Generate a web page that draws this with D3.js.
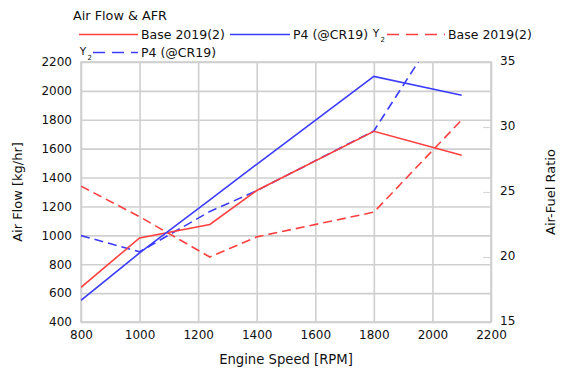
<!DOCTYPE html>
<html><head><meta charset="utf-8">
<script src="https://cdn.jsdelivr.net/npm/d3@7"></script>
<style>
body{margin:0;background:#fff;}
text{font-family:"DejaVu Sans",sans-serif;font-size:12px;fill:#111;}
</style></head>
<body><svg id="c" width="565" height="373"></svg>
<script>
const rpm = [800, 1000, 1240, 1400, 1800, 2100];
const airflowBase = [640, 982, 1075, 1310, 1720, 1555];
const airflowP4 = [550, 878, 1245, 1492, 2100, 1970];
const afrBase = [25.45, 23.1, 20.0, 21.55, 23.45, 30.55];
const afrP4 = [21.65, 20.4, 23.5, 25.1, 29.7, 40.2];
const xTicks = [800, 1000, 1200, 1400, 1600, 1800, 2000, 2200];
const yTicks = [400, 600, 800, 1000, 1200, 1400, 1600, 1800, 2000, 2200];
const y2Ticks = [15, 20, 25, 30, 35];
const seriesNames = ["Base 2019(2)", "P4 (@CR19)"];
const title = "Air Flow & AFR";

const RED = "#ff4040", BLUE = "#3c3cff", GRID = "#cfcfcf";
const L = 81, R = 491, T = 62, B = 322;
const svg = d3.select("#c");
const x = d3.scaleLinear().domain([800, 2200]).range([L, R]);
const y = d3.scaleLinear().domain([400, 2200]).range([B, T]);
const y2 = d3.scaleLinear().domain([15, 35]).range([B, T]);

// grid + axes
const gx = svg.append("g").attr("transform", `translate(0,${B})`)
  .call(d3.axisBottom(x).tickValues(xTicks).tickSize(-(B - T)).tickPadding(8.5).tickFormat(d3.format("d")));
const gy = svg.append("g").attr("transform", `translate(${L},0)`)
  .call(d3.axisLeft(y).tickValues(yTicks).tickSize(-(R - L)).tickPadding(9).tickFormat(d3.format("d")));
const gy2 = svg.append("g").attr("transform", `translate(${R},0)`)
  .call(d3.axisRight(y2).tickValues(y2Ticks).tickSize(-8).tickPadding(9).tickFormat(d3.format("d")));
[gx, gy, gy2].forEach(g => {
  g.select(".domain").remove();
  g.selectAll("text").style("font-family", "DejaVu Sans").style("font-size", "12px").attr("fill", "#111");
});
gy2.selectAll("text").attr("dy", "0.2em");
gx.selectAll(".tick line").attr("stroke", GRID).attr("stroke-width", 1.6);
gy.selectAll(".tick line").attr("stroke", GRID).attr("stroke-width", 1.6);
gy2.selectAll(".tick line").attr("stroke", "#d8d8d8").attr("stroke-width", 1.2);
svg.append("rect").attr("x", L).attr("y", T).attr("width", R - L).attr("height", B - T)
  .attr("fill", "none").attr("stroke", GRID).attr("stroke-width", 1.6);

// clip
svg.append("clipPath").attr("id", "clip").append("rect")
  .attr("x", L).attr("y", T).attr("width", R - L).attr("height", B - T);
const plot = svg.append("g").attr("clip-path", "url(#clip)");

const lineL = d3.line().x((d, i) => x(rpm[i])).y(d => y(d));
const lineR = d3.line().x((d, i) => x(rpm[i])).y(d => y2(d));
const DASH = "9,5";
const series = [
  {data: afrBase, gen: lineR, color: RED, dash: DASH},
  {data: afrP4, gen: lineR, color: BLUE, dash: DASH},
  {data: airflowBase, gen: lineL, color: RED, dash: null},
  {data: airflowP4, gen: lineL, color: BLUE, dash: null},
];
series.forEach(s => {
  plot.append("path").attr("d", s.gen(s.data)).attr("fill", "none")
    .attr("stroke", s.color).attr("stroke-width", 1.6)
    .attr("stroke-dasharray", s.dash);
});

// titles
svg.append("text").attr("x", 73).attr("y", 20).style("font-size", "12.8px").text(title);
svg.append("text").attr("x", 286).attr("y", 364).attr("text-anchor", "middle").style("font-size", "13.2px").text("Engine Speed [RPM]");
svg.append("text").attr("transform", `translate(22,${(T + B) / 2}) rotate(-90)`).attr("text-anchor", "middle").style("font-size", "13px").text("Air Flow [kg/hr]");
svg.append("text").attr("transform", `translate(555,${(T + B) / 2}) rotate(-90)`).attr("text-anchor", "middle").style("font-size", "13px").text("Air-Fuel Ratio");

// legend (secondary-axis marker "Y2")
function y2Icon(cx, cy) {
  svg.append("text").attr("x", cx - 1).attr("y", cy + 2.5).attr("text-anchor", "middle").style("font-size", "10.5px").text("Y");
  svg.append("text").attr("x", cx + 3.4).attr("y", cy + 7).style("font-size", "7px").text("2");
}
const legend = [
  {x1: 79, x2: 138, y: 34.5, color: RED, dash: null, label: seriesNames[0], icon: null},
  {x1: 230, x2: 290, y: 34.5, color: BLUE, dash: null, label: seriesNames[1], icon: null},
  {x1: 387, x2: 445, y: 34.5, color: RED, dash: "12,7", label: seriesNames[0], icon: 377},
  {x1: 93, x2: 138, y: 52.5, color: BLUE, dash: "12,7", label: seriesNames[1], icon: 84},
];
legend.forEach(l => {
  svg.append("line").attr("x1", l.x1).attr("x2", l.x2).attr("y1", l.y).attr("y2", l.y)
    .attr("stroke", l.color).attr("stroke-width", 1.6).attr("stroke-dasharray", l.dash);
  svg.append("text").attr("x", l.x2 + 3).attr("y", l.y + 4.5).style("font-size", "12.5px").text(l.label);
  if (l.icon) y2Icon(l.icon, l.y);
});
</script></body></html>
